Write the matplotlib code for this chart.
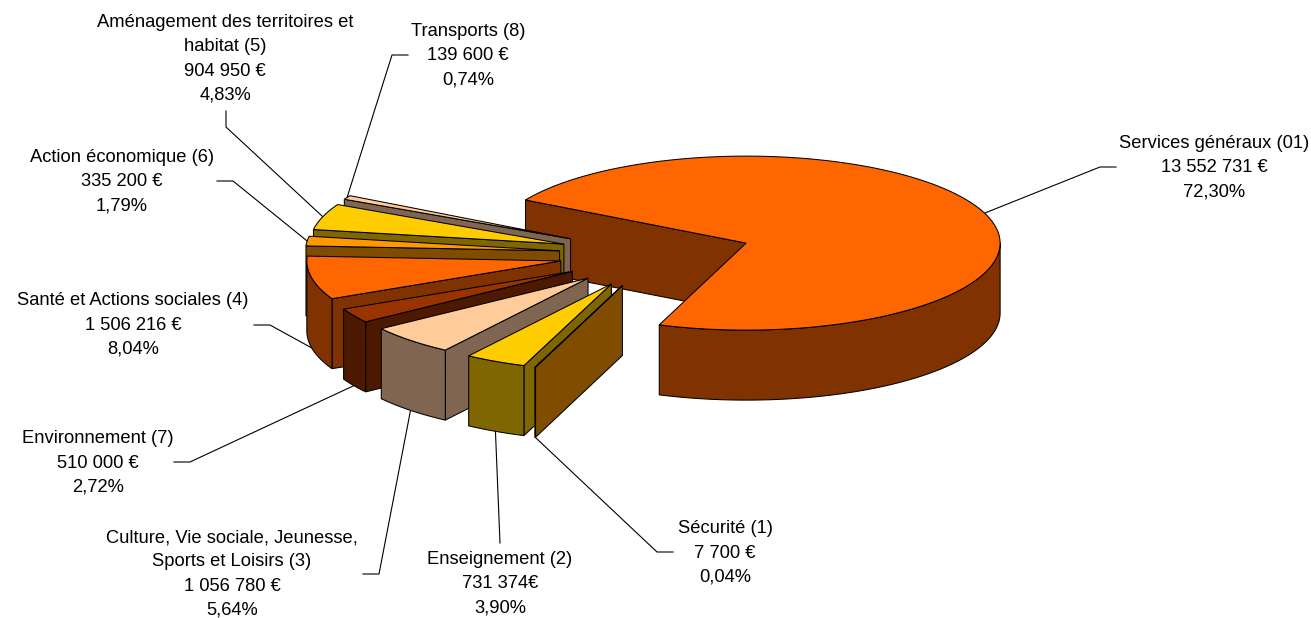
import matplotlib
import matplotlib.pyplot as plt
from matplotlib.patches import Polygon
import numpy as np

matplotlib.use("Agg")

plt.rcParams["font.family"] = ["Liberation Sans", "DejaVu Sans"]

# budget per function, clockwise from the big slice
names = [
    ["Services généraux (01)"],
    ["Sécurité (1)"],
    ["Enseignement (2)"],
    ["Culture, Vie sociale, Jeunesse,", "Sports et Loisirs (3)"],
    ["Environnement (7)"],
    ["Santé et Actions sociales (4)"],
    ["Action économique (6)"],
    ["Aménagement des territoires et", "habitat (5)"],
    ["Transports (8)"],
]
amounts = [13552731, 7700, 731374, 1056780, 510000, 1506216, 335200, 904950, 139600]
amount_labels = [
    "13 552 731 €",
    "7 700 €",
    "731 374€",
    "1 056 780 €",
    "510 000 €",
    "1 506 216 €",
    "335 200 €",
    "904 950 €",
    "139 600 €",
]
percent_labels = [
    "72,30%",
    "0,04%",
    "3,90%",
    "5,64%",
    "2,72%",
    "8,04%",
    "1,79%",
    "4,83%",
    "0,74%",
]
top_colors = [
    "#FF6600",
    "#FF9900",
    "#FFCC00",
    "#FFCC99",
    "#993300",
    "#FF6600",
    "#FF9900",
    "#FFCC00",
    "#FFCC99",
]
wall_colors = [
    "#803300",
    "#804C00",
    "#806600",
    "#806650",
    "#4D1900",
    "#803300",
    "#804C00",
    "#806600",
    "#806650",
]

# pie layout, in pixels
CENTER_X, CENTER_Y = 655.5, 254.5
RX, RY = 254.0, 87.0
DEPTH = 70.0
EXPLODE = 0.38
START_ANGLE = 150.29
LINE_W = 0.75

# label block centre and the leader's elbow points
label_pos = [
    (1214, 168),
    (725, 553),
    (500, 584),
    (232, 574),
    (98, 463),
    (133, 325),
    (122, 182),
    (225, 59),
    (468, 56),
]
elbows = [
    [(1100, 167), (1116, 167)],
    [(657, 552), (673, 552)],
    [(500, 543)],
    [(379, 574), (363, 574)],
    [(190, 462), (174, 462)],
    [(270, 325), (254, 325)],
    [(233, 181), (217, 181)],
    [(226, 127), (226, 111)],
    [(392, 55), (408, 55)],
]


def rim(cx, cy, angles):
    rad = np.radians(angles)
    return np.column_stack([cx + RX * np.cos(rad), cy - RY * np.sin(rad)])


def draw_slice(ax, cx, cy, a0, a1, top, wall, z):
    # a0 > a1, slices run clockwise
    drop = np.array([0, DEPTH])
    apex = np.array([[cx, cy]])

    if np.cos(np.radians(a0)) < 0:
        edge = np.vstack([apex, rim(cx, cy, [a0])])
        ax.add_patch(
            Polygon(
                np.vstack([edge, edge[::-1] + drop]),
                fc=wall, ec="black", lw=LINE_W, zorder=z,
            )
        )

    # the outer wall only shows on the front half of the rim
    for turn in (0, -360):
        lo, hi = max(a1, -180 + turn), min(a0, 0 + turn)
        if hi > lo:
            arc = rim(cx, cy, np.linspace(hi, lo, 100))
            ax.add_patch(
                Polygon(
                    np.vstack([arc, arc[::-1] + drop]),
                    fc=wall, ec="black", lw=LINE_W, zorder=z,
                )
            )

    n = max(int(a0 - a1) * 2, 3)
    outline = np.vstack([apex, rim(cx, cy, np.linspace(a0, a1, n))])
    ax.add_patch(Polygon(outline, fc=top, ec="black", lw=LINE_W, zorder=z))


def main():
    fig = plt.figure(figsize=(13.11, 6.18), dpi=100)
    ax = fig.add_axes([0, 0, 1, 1])
    ax.set_xlim(0, 1311)
    ax.set_ylim(618, 0)
    ax.axis("off")

    sweep = np.array(amounts) / np.sum(amounts) * 360
    ends = START_ANGLE - np.cumsum(sweep)
    starts = ends + sweep
    mids = (starts + ends) / 2

    centers = []
    for mid in mids:
        shift = rim(0, 0, [mid])[0] * EXPLODE
        centers.append((CENTER_X + shift[0], CENTER_Y + shift[1]))

    # leaders sit under the slices
    for i, mid in enumerate(mids):
        anchor = rim(*centers[i], [mid])[0]
        if np.sin(np.radians(mid)) < 0:
            anchor = anchor + np.array([0, DEPTH])
        pts = np.vstack([anchor, elbows[i]])
        ax.plot(pts[:, 0], pts[:, 1], color="black", lw=0.8, zorder=1)

    # back to front: big slice, then the small ones from the far side forward
    order = [0, 8, 7, 6, 5, 4, 3, 2, 1]
    for z, i in enumerate(order, start=2):
        draw_slice(
            ax, *centers[i], starts[i], ends[i], top_colors[i], wall_colors[i], z
        )

    for i, (x, y) in enumerate(label_pos):
        lines = names[i] + [amount_labels[i], percent_labels[i]]
        top = y - (len(lines) - 1) * 24.3 / 2
        for k, line in enumerate(lines):
            ax.text(
                x, top + k * 24.3, line,
                ha="center", va="center", fontsize=13.2, color="black", zorder=20,
            )

    fig.savefig("out.png", dpi=100, facecolor="white")


if __name__ == "__main__":
    main()
